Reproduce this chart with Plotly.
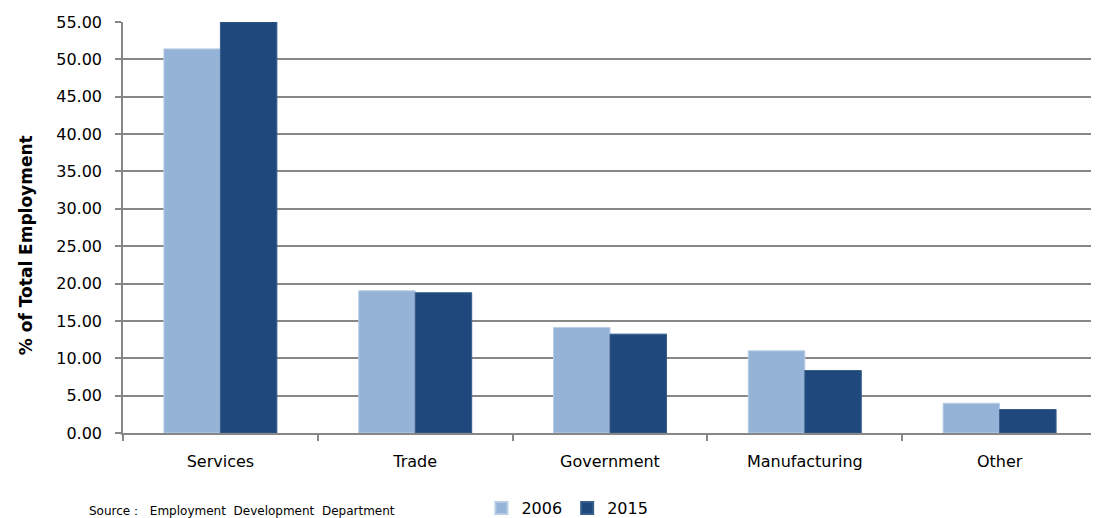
import plotly.graph_objects as go

categories = ["Services", "Trade", "Government", "Manufacturing", "Other"]
values_2006 = [51.4, 19.03, 14.13, 10.99, 3.98]
values_2015 = [55.0, 18.77, 13.23, 8.36, 3.14]
y_ticks = [0, 5, 10, 15, 20, 25, 30, 35, 40, 45, 50, 55]

FONT = "DejaVu Sans"

fig = go.Figure()
fig.add_trace(go.Bar(name="2006", x=categories, y=values_2006,
                     marker=dict(color="#95B3D7", line=dict(color="#B9CDE5", width=1))))
fig.add_trace(go.Bar(name="2015", x=categories, y=values_2015,
                     marker=dict(color="#1F497D", line=dict(color="#385D8A", width=1))))

# page body has an 8px default margin, so the figure is sized/placed to compensate
fig.update_layout(
    width=1091, height=510,
    margin=dict(l=115, r=2, t=14, b=85, autoexpand=False),
    paper_bgcolor="white", plot_bgcolor="white",
    barmode="group", bargap=0.42, bargroupgap=0,
    font=dict(family=FONT, color="#000000", size=15),
    showlegend=True,
    legend=dict(orientation="h", x=0.368, y=-0.183, xanchor="left", yanchor="middle",
                font=dict(family=FONT, size=16), itemwidth=30, tracegroupgap=0,
                itemsizing="constant"),
    annotations=[
        dict(text="Source\uff1a  Employment  Development  Department",
             xref="paper", yref="paper", x=-0.0365, y=-0.19, xanchor="left", yanchor="middle",
             showarrow=False, font=dict(family=FONT, size=12, color="#000000")),
        dict(text="<b>% of Total Employment</b>", textangle=-90,
             xref="paper", yref="paper", x=-0.1, y=0.456, xanchor="center", yanchor="middle",
             showarrow=False, font=dict(family=FONT, size=17, color="#000000")),
    ],
)
fig.update_yaxes(
    range=[0, 55], tickvals=y_ticks, tickformat=".2f",
    showgrid=True, gridcolor="#878787", gridwidth=1.5,
    showline=True, linecolor="#878787", linewidth=1.5,
    ticks="outside", ticklen=6, tickcolor="#878787", tickwidth=1.5,
    tickfont=dict(family=FONT, size=16), ticklabelstandoff=10,
    zeroline=False, automargin=False,
)
fig.update_xaxes(
    showline=True, linecolor="#878787", linewidth=1.5,
    ticks="outside", ticklen=6, tickcolor="#878787", tickwidth=1.5,
    tickson="boundaries",
    tickfont=dict(family=FONT, size=16), ticklabelstandoff=13,
    automargin=False,
)

fig.write_html("out.html")
